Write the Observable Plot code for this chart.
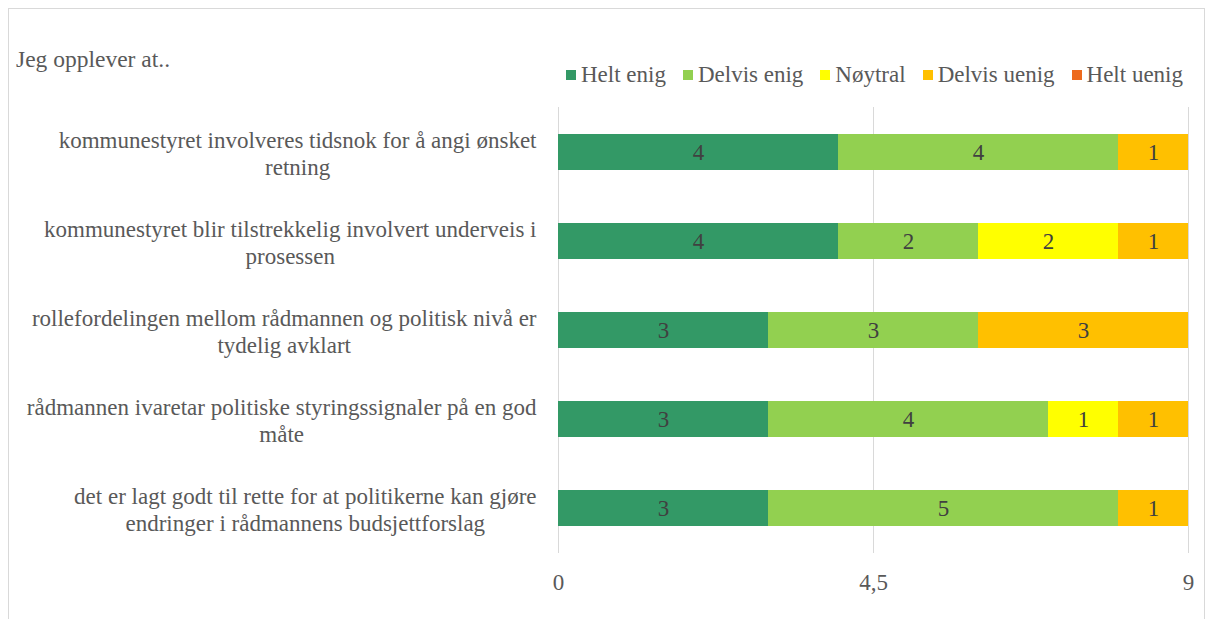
<!DOCTYPE html>
<html><head><meta charset="utf-8">
<script src="https://cdn.jsdelivr.net/npm/d3@7"></script>
<script src="https://cdn.jsdelivr.net/npm/@observablehq/plot@0.6"></script>
<style>
body{margin:0;background:#fff;}
#wrap{position:relative;width:1208px;height:619px;overflow:hidden;font-family:'Liberation Serif','DejaVu Serif';color:#595959;}
#frame{position:absolute;left:8px;top:8px;width:1197px;height:640px;border:1px solid #d9d9d9;box-sizing:border-box;}
#title{position:absolute;left:16px;top:46px;font-size:23.5px;line-height:26px;}
#legend{position:absolute;left:566px;top:62px;font-size:23px;line-height:26px;display:flex;white-space:nowrap;}
#legend .it{display:flex;align-items:center;margin-right:17px;}
#legend .sw{width:10px;height:10px;margin-right:5px;}
#chart{position:absolute;left:0;top:0;}
</style></head>
<body>
<div id="wrap">
  <div id="frame"></div>
  <div id="chart"></div>
  <div id="title"></div>
  <div id="legend"></div>
</div>
<script>
const title = "Jeg opplever at..";
const categories = [
  "kommunestyret involveres tidsnok for å angi ønsket\nretning",
  "kommunestyret blir tilstrekkelig involvert underveis i\nprosessen",
  "rollefordelingen mellom rådmannen og politisk nivå er\ntydelig avklart",
  "rådmannen ivaretar politiske styringssignaler på en god\nmåte",
  "det er lagt godt til rette for at politikerne kan gjøre\nendringer i rådmannens budsjettforslag"
];
const series = ["Helt enig", "Delvis enig", "Nøytral", "Delvis uenig", "Helt uenig"];
const colors = ["#339966", "#92D050", "#FFFF00", "#FFC000", "#ED6A1D"];
const heltEnig    = [4, 4, 3, 3, 3];
const delvisEnig  = [4, 2, 3, 4, 5];
const noytral     = [0, 2, 0, 1, 0];
const delvisUenig = [1, 1, 3, 1, 1];
const heltUenig   = [0, 0, 0, 0, 0];
const xTicks = [0, 4.5, 9];

const valuesBySeries = [heltEnig, delvisEnig, noytral, delvisUenig, heltUenig];
const data = [];
categories.forEach((c, i) => {
  series.forEach((s, j) => data.push({cat: c, series: s, value: valuesBySeries[j][i]}));
});

const FONT = "'Liberation Serif','DejaVu Serif'";
const FS = 23;
const canvas = document.createElement("canvas");
const ctx = canvas.getContext("2d");
ctx.font = `${FS}px ${FONT}`;
function blockWidth(t){ return Math.max(...t.split("\n").map(l => ctx.measureText(l).width)); }

const labelMarks = categories.map(c => Plot.text([c], {
  y: d => d, text: d => d, frameAnchor: "left", textAnchor: "middle",
  dx: -(22 + blockWidth(c) / 2), lineHeight: 1.17, fontSize: FS, fill: "#595959"
}));

const chart = Plot.plot({
  width: 1208, height: 619,
  marginLeft: 558, marginRight: 20, marginTop: 107, marginBottom: 66,
  style: {fontFamily: FONT, fontSize: FS + "px", color: "#595959", background: "transparent"},
  x: {domain: [0, 9], label: null},
  y: {domain: categories, paddingInner: 0.6, paddingOuter: 0.3, axis: null},
  color: {domain: series, range: colors},
  marks: [
    Plot.ruleX(xTicks, {stroke: "#d9d9d9", strokeWidth: 1}),
    Plot.barX(data, {x: "value", y: "cat", fill: "series", order: series}),
    Plot.text(data.filter(d => d.value > 0), Plot.stackX({x: "value", y: "cat", z: "series", order: series, text: d => String(d.value), fill: "#404040", fontSize: FS})),
    Plot.axisX(xTicks, {tickSize: 0, tickPadding: 20, label: null, tickFormat: d => String(d).replace(".", ","), fontSize: FS, fill: "#595959"}),
    ...labelMarks
  ]
});
document.getElementById("chart").appendChild(chart);
document.getElementById("title").textContent = title;
const leg = document.getElementById("legend");
series.forEach((s, i) => {
  const it = document.createElement("div"); it.className = "it";
  const sw = document.createElement("div"); sw.className = "sw"; sw.style.background = colors[i];
  const tx = document.createElement("span"); tx.textContent = s;
  it.appendChild(sw); it.appendChild(tx); leg.appendChild(it);
});
</script>
</body></html>
